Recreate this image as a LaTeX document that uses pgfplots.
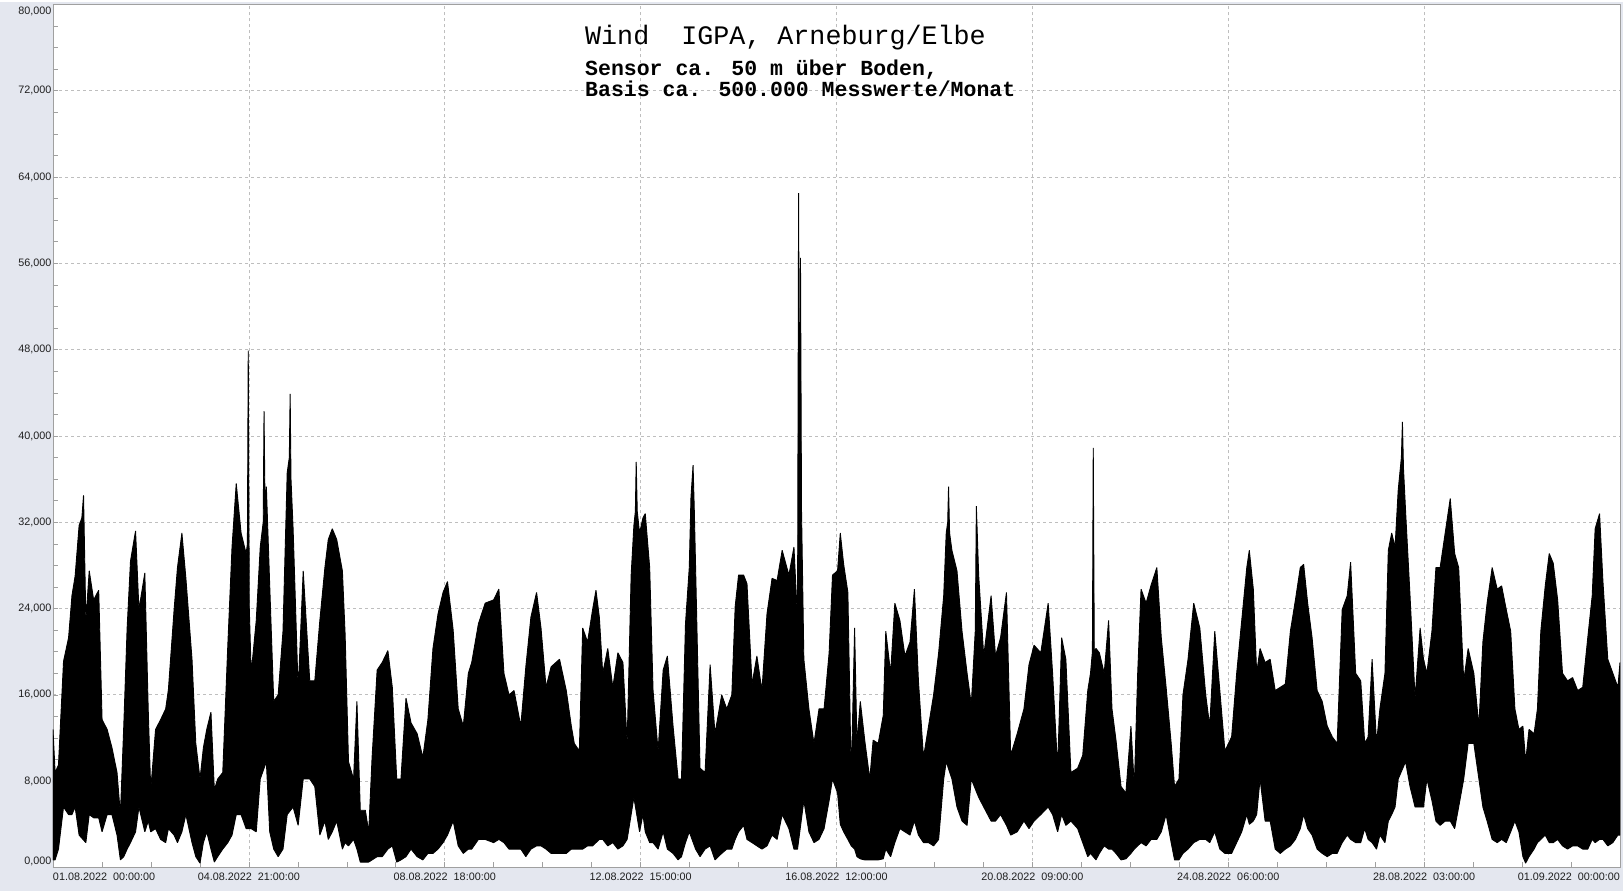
\documentclass[border=0pt]{standalone}
\usepackage{pgfplots}
\pgfplotsset{compat=1.18}
\usepackage{pgfplotstable}
\usepackage{fontspec}
\setmainfont{Liberation Sans}
\newfontfamily\monofont{Liberation Mono}
\definecolor{bgc}{RGB}{228,231,239}
\definecolor{framec}{RGB}{160,160,160}
\definecolor{gridc}{RGB}{190,190,190}
\definecolor{labc}{RGB}{30,30,30}

% upper envelope of the wind signal (thousands), x in hours since 01.08.2022 00:00
\pgfplotstableread{
h v
0 12.8
1.0 8.8
2.6 9.5
5.0 19.1
7.4 21.3
9.0 25.2
10.5 27.0
12.4 31.7
13.7 32.4
14.5 34.5
15.6 22.9
17.2 27.5
19.3 24.8
21.7 25.7
23.3 13.7
25.7 12.8
28.0 11.1
30.4 8.8
32.0 4.9
33.6 13.1
35.2 22.2
36.8 28.4
39.2 31.2
40.8 23.9
43.6 27.3
45.2 14.7
46.4 7.2
48.7 12.8
51.1 13.7
53.5 14.7
54.8 16.5
57.5 23.9
59.1 27.8
61.2 31.0
63.1 26.8
66.0 19.3
67.8 11.5
69.8 8.2
71.4 11.1
73.0 12.8
75.0 14.4
76.6 7.2
78.2 8.2
80.6 8.8
83.0 20.6
85.0 29.7
87.0 35.6
89.3 31.0
91.7 29.1
92.3 30.0
92.7 47.9
93.2 24.0
94.1 18.0
96.5 22.9
98.4 29.7
99.8 32.0
100.2 42.3
100.7 33.0
101.3 35.3
102.9 26.1
104.8 15.4
106.9 16.0
109.2 21.9
111.2 36.6
112.2 38.0
112.6 43.9
113.0 36.0
114.0 31.4
116.4 16.4
118.8 27.5
121.9 17.3
124.3 17.3
126.7 22.9
129.1 27.8
130.7 30.4
132.6 31.4
134.7 30.4
137.4 27.5
138.7 21.6
140.3 9.8
142.7 8.2
144.3 15.4
145.9 5.3
148.3 5.3
149.9 3.3
151.5 10.2
153.9 18.3
156.3 19.0
159.0 20.1
161.1 16.7
163.2 8.2
165.2 8.2
167.6 15.7
170.0 13.4
172.9 12.4
175.6 10.2
178.0 13.7
180.4 20.3
182.8 23.5
185.2 25.5
187.3 26.5
190.0 22.0
192.4 14.7
194.8 13.1
197.2 18.0
198.8 19.0
202.0 22.6
205.2 24.5
209.2 24.8
211.7 25.8
214.1 18.0
216.5 16.0
218.9 16.4
222.1 13.1
224.5 18.6
226.9 23.2
229.6 25.5
231.7 22.2
234.1 16.7
236.5 18.6
240.5 19.3
243.7 16.4
246.1 13.1
247.5 11.5
249.9 10.8
251.5 22.2
253.8 20.9
256.2 23.9
257.8 25.7
259.4 23.2
261.0 18.0
263.4 20.3
265.8 16.7
268.2 19.9
270.6 19.0
272.6 11.5
274.5 27.1
275.8 31.7
276.5 33.0
276.9 37.6
277.4 33.0
278.5 31.0
280.1 32.4
281.2 32.8
283.3 27.8
284.9 16.4
287.3 10.8
289.7 18.3
291.7 19.6
294.4 13.1
296.8 8.2
298.4 8.2
300.3 22.6
302.1 27.8
302.9 34.3
303.9 37.3
304.5 33.0
305.1 27.8
307.2 9.2
309.6 8.8
312.0 18.8
314.3 12.4
317.5 16.0
319.9 14.7
322.3 16.0
323.9 24.2
325.5 27.1
327.9 27.1
329.5 26.3
331.9 17.0
334.2 19.6
336.6 16.4
339.0 23.5
341.4 26.8
343.8 26.6
346.2 29.4
349.4 27.1
351.8 29.7
353.5 22.9
354.0 62.5
354.5 35.0
354.9 56.5
355.4 33.0
356.5 19.3
358.9 14.7
361.3 11.5
363.7 14.7
366.1 14.7
368.5 19.9
370.1 27.1
372.5 27.5
373.8 31.0
375.4 28.1
377.4 25.5
379.0 8.2
380.6 22.2
381.7 11.5
383.3 15.4
385.4 11.8
387.8 8.2
389.4 11.8
391.8 11.5
394.2 14.1
395.4 21.9
397.7 18.0
399.7 24.5
402.1 22.9
404.5 19.6
406.9 20.9
409.0 25.8
410.9 17.3
413.3 10.2
415.7 13.1
418.1 16.0
420.5 19.9
422.9 25.2
424.1 31.0
424.8 32.0
425.2 35.3
425.7 31.0
426.8 29.4
429.2 27.5
431.6 21.9
434.0 18.0
436.0 15.1
437.9 22.0
438.4 33.5
439.5 27.1
441.9 19.6
445.4 25.2
447.5 19.6
449.9 21.3
452.7 25.5
454.7 10.4
457.8 12.4
461.0 14.7
463.4 18.8
465.8 20.6
469.0 19.9
472.5 24.5
474.6 18.0
477.0 9.2
478.9 21.3
480.9 19.3
483.3 8.8
486.5 9.2
488.9 10.4
491.3 16.4
492.6 18.0
493.5 20.0
493.9 38.9
494.4 20.0
495.2 20.3
496.8 19.9
499.1 18.0
501.2 22.9
502.8 14.7
504.7 11.8
507.1 7.5
509.4 6.9
511.8 13.1
513.4 7.5
515.0 18.0
516.6 25.8
519.0 24.5
521.4 26.2
524.1 27.8
526.2 21.3
528.5 16.7
530.9 11.5
532.5 7.5
534.6 8.2
536.5 16.0
538.9 19.3
541.6 24.5
544.5 22.2
547.3 16.0
549.2 13.1
551.6 21.9
554.0 16.4
556.4 10.8
559.6 12.1
562.0 18.0
564.4 22.9
566.8 27.8
568.0 29.4
569.9 25.8
571.5 18.0
573.1 20.3
575.5 19.0
577.9 19.3
580.3 16.4
582.7 16.7
585.1 17.0
587.5 21.9
589.9 24.8
592.2 27.8
593.8 28.1
595.7 24.5
597.8 21.3
600.2 16.4
602.6 15.4
605.0 13.1
607.4 12.1
609.7 11.5
612.1 23.9
614.5 25.2
616.1 28.3
618.5 18.0
620.9 17.3
622.8 11.5
624.4 12.1
626.3 19.3
628.4 11.5
630.0 14.7
632.4 18.0
634.0 29.4
635.6 31.0
637.2 29.7
638.7 35.0
640.2 38.0
640.7 41.3
641.2 37.0
642.2 33.0
644.3 25.2
646.7 15.7
649.1 22.2
650.7 19.3
652.3 18.0
654.7 21.9
656.6 27.8
658.6 27.8
661.0 31.0
663.4 34.2
665.5 29.1
667.4 27.8
669.8 17.3
671.9 20.3
674.6 18.0
677.0 13.1
678.9 20.9
680.9 24.5
683.3 27.8
685.7 25.8
687.8 26.1
690.0 23.9
692.1 21.9
694.1 14.7
696.0 12.8
697.9 13.1
699.2 9.8
700.8 12.8
703.2 12.4
704.8 14.7
706.4 21.9
708.5 26.1
710.4 29.1
712.3 28.2
714.4 24.8
716.7 18.0
719.1 17.3
721.5 17.6
723.9 16.4
726.3 16.7
728.7 21.3
730.8 25.2
732.2 31.4
734.3 32.8
735.9 26.5
738.2 19.3
740.6 18.0
743.0 16.7
744.0 19.0
}\envU

% lower envelope (thousands)
\pgfplotstableread{
h v
0 0.7
1.0 0.7
2.6 1.7
5.0 5.6
7.4 4.9
9.0 4.9
10.5 5.6
12.4 3.0
15.6 2.3
17.2 4.9
19.3 4.6
21.7 4.6
23.3 3.3
25.7 4.9
28.0 4.9
30.4 3.0
32.0 0.7
33.6 1.0
35.2 1.7
36.8 2.3
39.2 3.3
40.8 5.6
43.6 3.3
45.2 4.3
46.4 3.3
48.7 3.6
51.1 2.6
53.5 2.3
54.8 3.6
57.5 3.0
59.1 2.3
61.2 3.3
63.1 4.9
66.0 2.3
67.8 1.0
69.8 0.4
71.4 2.3
73.0 3.3
75.0 1.7
76.6 0.5
78.2 1.0
80.6 1.7
83.0 2.3
85.0 3.0
87.0 4.9
89.3 4.9
91.7 3.6
94.1 3.6
96.5 3.3
98.4 8.2
101.3 9.8
102.9 3.3
104.8 1.7
106.9 1.0
109.2 1.7
111.2 4.9
114.0 5.6
116.4 3.9
118.8 8.2
121.9 8.2
124.3 7.5
126.7 3.0
129.1 4.3
130.7 2.6
132.6 3.3
134.7 4.3
137.4 1.7
138.7 2.3
140.3 2.0
142.7 2.6
144.3 1.7
145.9 0.5
148.3 0.5
149.9 0.5
151.5 0.7
153.9 1.0
156.3 1.0
159.0 1.7
161.1 2.0
163.2 0.5
165.2 0.7
167.6 1.0
170.0 1.7
172.9 1.0
175.6 0.7
178.0 1.3
180.4 1.3
182.8 1.7
185.2 2.3
187.3 3.0
190.0 4.3
192.4 2.0
194.8 1.3
197.2 1.7
198.8 1.7
202.0 2.6
205.2 2.6
209.2 2.3
211.7 2.6
214.1 2.3
216.5 1.7
218.9 1.7
222.1 1.7
224.5 1.0
226.9 1.7
229.6 2.0
231.7 2.0
234.1 1.7
236.5 1.3
240.5 1.3
243.7 1.3
246.1 1.7
247.5 1.7
249.9 1.7
251.5 1.7
253.8 2.0
256.2 2.0
257.8 2.3
259.4 2.6
261.0 2.6
263.4 2.0
265.8 2.3
268.2 1.7
270.6 2.0
272.6 2.6
274.5 4.9
275.8 6.5
278.5 3.3
280.1 4.9
281.2 3.3
283.3 2.3
284.9 2.3
287.3 1.7
289.7 3.3
291.7 1.7
294.4 1.3
296.8 0.7
298.4 1.0
300.3 2.3
302.1 3.3
305.1 1.7
307.2 1.0
309.6 1.7
312.0 2.0
314.3 0.7
317.5 1.3
319.9 1.7
322.3 1.7
323.9 2.6
325.5 3.3
327.9 3.9
329.5 2.6
331.9 2.3
334.2 2.0
336.6 1.7
339.0 2.0
341.4 3.0
343.8 2.6
346.2 4.9
349.4 3.6
351.8 1.7
353.5 1.7
356.5 6.2
358.9 3.3
361.3 2.3
363.7 2.6
366.1 3.6
368.5 6.2
370.1 8.2
372.5 6.9
373.8 4.0
375.4 3.3
377.4 2.6
379.0 2.0
380.6 1.7
381.7 1.0
383.3 0.8
385.4 0.7
387.8 0.7
389.4 0.7
391.8 0.7
394.2 0.8
395.4 1.7
397.7 1.0
399.7 2.3
402.1 3.6
404.5 3.3
406.9 3.0
409.0 4.3
410.9 3.0
413.3 2.3
415.7 2.3
418.1 2.0
420.5 2.6
422.9 8.2
424.1 9.8
426.8 8.2
429.2 5.6
431.6 4.3
434.0 3.9
436.0 8.2
439.5 6.5
441.9 5.6
445.4 4.3
447.5 4.3
449.9 4.9
452.7 3.9
454.7 3.0
457.8 3.3
461.0 4.3
463.4 3.6
465.8 4.3
469.0 4.9
472.5 5.6
474.6 4.9
477.0 3.3
478.9 4.9
480.9 3.9
483.3 4.3
486.5 3.6
488.9 2.3
491.3 1.0
492.6 1.3
495.2 0.7
496.8 1.3
499.1 2.0
501.2 1.7
502.8 1.7
504.7 1.3
507.1 0.7
509.4 0.8
511.8 1.3
513.4 1.7
515.0 2.0
516.6 2.3
519.0 2.0
521.4 2.6
524.1 2.6
526.2 3.3
528.5 4.9
530.9 2.3
532.5 0.7
534.6 0.7
536.5 1.3
538.9 1.7
541.6 2.3
544.5 2.6
547.3 2.6
549.2 2.3
551.6 3.3
554.0 1.7
556.4 1.3
559.6 1.3
562.0 2.3
564.4 3.3
566.8 4.9
568.0 4.0
569.9 4.3
571.5 4.9
573.1 8.2
575.5 4.3
577.9 4.3
580.3 1.7
582.7 1.3
585.1 1.7
587.5 2.0
589.9 2.6
592.2 3.6
593.8 4.9
595.7 3.6
597.8 3.0
600.2 1.7
602.6 1.3
605.0 1.0
607.4 1.3
609.7 1.3
612.1 2.3
614.5 3.0
616.1 2.6
618.5 2.3
620.9 2.3
622.8 3.6
624.4 2.6
626.3 2.3
628.4 1.7
630.0 3.0
632.4 2.3
634.0 4.3
635.6 4.9
637.2 5.6
638.7 8.2
642.2 9.8
644.3 7.5
646.7 5.6
649.1 5.6
650.7 5.6
652.3 8.2
654.7 6.2
656.6 4.3
658.6 3.9
661.0 4.3
663.4 4.3
665.5 3.6
667.4 5.6
669.8 8.2
671.9 11.5
674.6 11.5
677.0 8.2
678.9 5.6
680.9 4.3
683.3 2.6
685.7 2.3
687.8 2.6
690.0 2.3
692.1 3.3
694.1 4.3
696.0 3.3
697.9 1.0
699.2 0.4
700.8 1.0
703.2 1.7
704.8 2.3
706.4 2.6
708.5 3.0
710.4 2.3
712.3 2.3
714.4 2.6
716.7 2.0
719.1 1.7
721.5 2.0
723.9 2.0
726.3 1.7
728.7 1.7
730.8 2.6
732.2 2.3
734.3 2.6
735.9 2.6
738.2 2.0
740.6 2.3
743.0 3.0
744.0 3.0
}\envL

% band outline: upper envelope forward, then lower envelope backward
\pgfplotstablesort[sort key=h, sort cmp=float >]{\envLrev}{\envL}
\pgfplotstablevertcat{\envU}{\envLrev}

\begin{document}
\begin{tikzpicture}
\fill[bgc] (-53pt,-24pt) rectangle (1570pt,865pt);
\begin{axis}[
  at={(0pt,0pt)}, anchor=south west,
  scale only axis, width=1567pt, height=863pt,
  xmin=0, xmax=744, ymin=0, ymax=80,
  axis background/.style={fill=white},
  axis line style={draw=framec, line width=0.8pt},
  every tick/.style={draw=framec, line width=0.6pt},
  tick align=inside,
  major tick length=5pt, minor tick length=5pt,
  xtick pos=left, ytick pos=left,
  xtick={0,93,186,279,372,465,558,651,744},
  ytick={0,8,16,24,32,40,48,56,64,72,80},
  minor x tick num=3, minor y tick num=3,
  grid=major,
  major grid style={draw=gridc, dash pattern=on 3pt off 3pt, line width=0.7pt},
  xticklabels={{\makebox[0pt][l]{01.08.2022\ \ 00:00:00}},{04.08.2022\ \ 21:00:00},{08.08.2022\ \ 18:00:00},{12.08.2022\ \ 15:00:00},{16.08.2022\ \ 12:00:00},{20.08.2022\ \ 09:00:00},{24.08.2022\ \ 06:00:00},{28.08.2022\ \ 03:00:00},{\makebox[0pt][r]{01.09.2022\ \ 00:00:00}}},
  yticklabels={{\raisebox{6pt}[\height][\depth]{0,000}},{8,000},{16,000},{24,000},{32,000},{40,000},{48,000},{56,000},{64,000},{72,000},{\raisebox{-7pt}[\height][\depth]{80,000}}},
  x tick label style={font=\fontsize{10.8}{12}\selectfont, text=labc, inner sep=0pt, anchor=north, yshift=-5pt},
  y tick label style={font=\fontsize{10.8}{12}\selectfont, text=labc, inner sep=0pt, anchor=east, xshift=-1.5pt},
  clip=true,
]
\addplot[draw=black, fill=black, line width=0.9pt, line join=bevel] table[x=h,y=v]{\envU} -- cycle;
\end{axis}
\node[anchor=base west, inner sep=0pt] at (532pt,823.3pt) {\monofont\fontsize{26.7}{27}\selectfont Wind\ \ IGPA, Arneburg/Elbe};
\node[anchor=base west, inner sep=0pt] at (532pt,792pt) {\monofont\bfseries\fontsize{21.5}{22}\selectfont Sensor ca. 50 m über Boden,};
\node[anchor=base west, inner sep=0pt] at (532pt,771pt) {\monofont\bfseries\fontsize{21.5}{22}\selectfont Basis ca. 500.000 Messwerte/Monat};
\end{tikzpicture}
\end{document}
